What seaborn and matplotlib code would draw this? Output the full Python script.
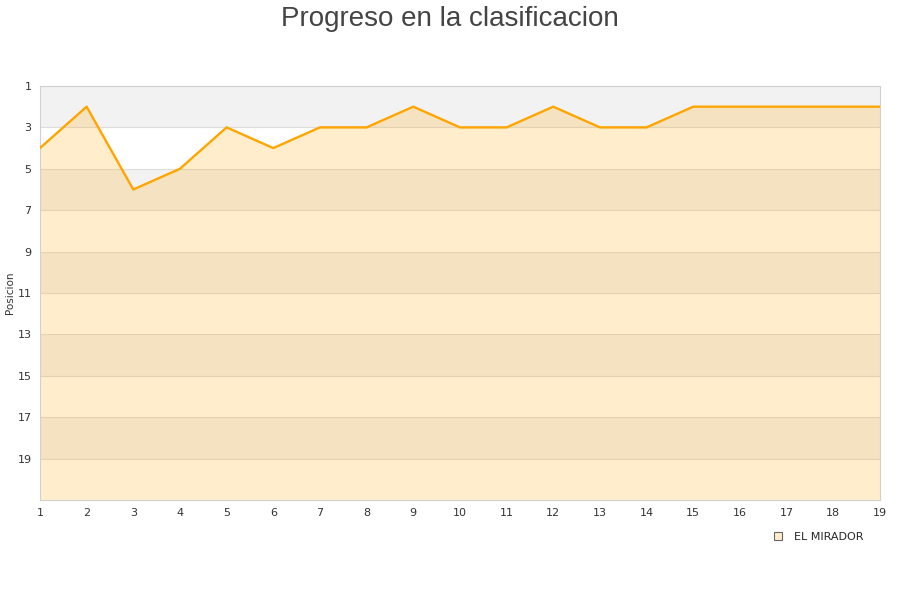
import numpy as np
import pandas as pd
import seaborn as sns
import matplotlib.pyplot as plt
from matplotlib.lines import Line2D

jornadas = list(range(1, 20))
posiciones = [4, 2, 6, 5, 3, 4, 3, 3, 2, 3, 3, 2, 3, 3, 2, 2, 2, 2, 2]
equipo = "EL MIRADOR"
y_ticks = list(range(1, 21, 2))

df = pd.DataFrame({"jornada": jornadas, "posicion": posiciones})

sns.set_style("white")
plt.rcParams['font.family'] = ['DejaVu Sans']

fig = plt.figure(figsize=(9, 6), dpi=100)
ax = fig.add_axes([0.0444, 0.1667, 0.9333, 0.69])

# alternating bands
for i, y0 in enumerate(range(1, 21, 2)):
    color = "#f2f2f2" if i % 2 == 0 else "white"
    ax.axhspan(y0, y0 + 2, color=color, zorder=0, lw=0)
for y0 in range(3, 21, 2):
    ax.axhline(y0, color="#dddddd", lw=0.8, zorder=1)

ax.fill_between(df["jornada"], df["posicion"], 21, color="#ffa500", alpha=0.2, lw=0, zorder=2)
sns.lineplot(data=df, x="jornada", y="posicion", color="#ffa500", lw=1.7, ax=ax, zorder=3)

ax.set_xlim(1, 19)
ax.set_ylim(21, 1)
ax.set_xticks(jornadas)
ax.set_yticks(y_ticks)
ax.tick_params(axis="both", length=0, labelsize=8, colors="#333333", pad=6)
ax.set_xlabel("")
ax.set_ylabel("Posicion", fontsize=7.5, color="#333333", labelpad=2)
for s in ax.spines.values():
    s.set_color("#d0d0d0")
    s.set_linewidth(0.8)

fig.suptitle("Progreso en la clasificacion", fontsize=20, color="#444444", y=0.99,
             family=["Liberation Sans", "DejaVu Sans"])

handle = Line2D([], [], marker="s", ls="", markersize=6, markerfacecolor="#ffedcc",
                markeredgecolor="#666666", markeredgewidth=0.8)
fig.legend([handle], [equipo], loc="center", bbox_to_anchor=(0.906, 0.105), frameon=False,
           fontsize=8, handletextpad=0.4)

fig.savefig("out.png", dpi=100)
